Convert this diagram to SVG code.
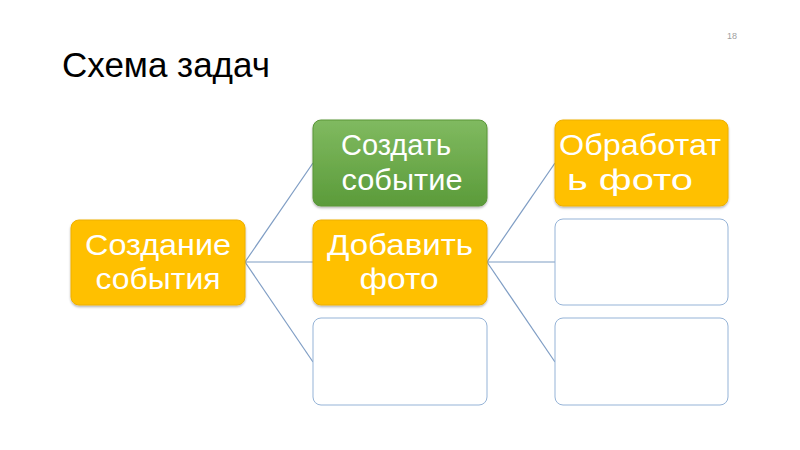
<svg xmlns="http://www.w3.org/2000/svg" width="800" height="450" viewBox="0 0 800 450">
<defs>
<linearGradient id="gGreen" x1="0" y1="0" x2="0" y2="1">
<stop offset="0" stop-color="#80ba60"/>
<stop offset="1" stop-color="#5b9b3a"/>
</linearGradient>
<filter id="sh" x="-10%" y="-10%" width="120%" height="130%">
<feDropShadow dx="0" dy="1.5" stdDeviation="1.2" flood-color="#000" flood-opacity="0.3"/>
</filter>
</defs>
<style>
.bg{fill:#ffffff}
.title{font-family:"Liberation Sans",Arial,sans-serif;font-size:35px;fill:#000}
.num{font-family:"Liberation Sans",Arial,sans-serif;font-size:9px;fill:#a0a0a0}
.orange{fill:#ffc000;stroke:#eeb000;stroke-width:1;filter:url(#sh)}
.green{fill:url(#gGreen);stroke:#5a9638;stroke-width:1;filter:url(#sh)}
.empty{fill:#ffffff;stroke:#95b3d7;stroke-width:1}
.lbl{font-family:"Liberation Sans",Arial,sans-serif;font-size:30px;fill:#ffffff;text-anchor:middle}
.conn line{stroke:#7f9dc4;stroke-width:1.2}
</style>
<rect class="bg" x="0" y="0" width="800" height="450"/>
<text class="title" x="62" y="77">Схема задач</text>
<text class="num" x="727" y="39">18</text>
<g id="connectors" class="conn">
<line x1="245" y1="262" x2="313" y2="163"/>
<line x1="245" y1="262" x2="313" y2="262"/>
<line x1="245" y1="262" x2="313" y2="362"/>
<line x1="487" y1="262" x2="555" y2="163"/>
<line x1="487" y1="262" x2="555" y2="262"/>
<line x1="487" y1="262" x2="555" y2="362"/>
</g>
<g id="node-sozdanie">
<rect class="orange" x="71" y="220" width="174" height="85" rx="8"/>
<text class="lbl" x="158" y="255" textLength="146" lengthAdjust="spacingAndGlyphs">Создание</text>
<text class="lbl" x="158" y="289" textLength="125" lengthAdjust="spacingAndGlyphs">события</text>
</g>
<g id="node-sozdat">
<rect class="green" x="313" y="120" width="174" height="86" rx="8"/>
<text class="lbl" x="396" y="155" textLength="110" lengthAdjust="spacingAndGlyphs">Создать</text>
<text class="lbl" x="402" y="190" textLength="121" lengthAdjust="spacingAndGlyphs">событие</text>
</g>
<g id="node-dobavit">
<rect class="orange" x="313" y="220" width="174" height="85" rx="8"/>
<text class="lbl" x="400" y="255" textLength="146" lengthAdjust="spacingAndGlyphs">Добавить</text>
<text class="lbl" x="399" y="289" textLength="79" lengthAdjust="spacingAndGlyphs">фото</text>
</g>
<g id="node-empty-mid">
<rect class="empty" x="313" y="318" width="174" height="87" rx="8"/>
</g>
<g id="node-obrabotat">
<rect class="orange" x="555" y="120" width="173" height="86" rx="8"/>
<text class="lbl" x="640" y="155" textLength="162" lengthAdjust="spacingAndGlyphs">Обработат</text>
<text class="lbl" x="630" y="190" textLength="126" lengthAdjust="spacingAndGlyphs">ь фото</text>
</g>
<g id="node-empty-r1">
<rect class="empty" x="555" y="219" width="173" height="86" rx="8"/>
</g>
<g id="node-empty-r2">
<rect class="empty" x="555" y="318" width="173" height="87" rx="8"/>
</g>
</svg>
